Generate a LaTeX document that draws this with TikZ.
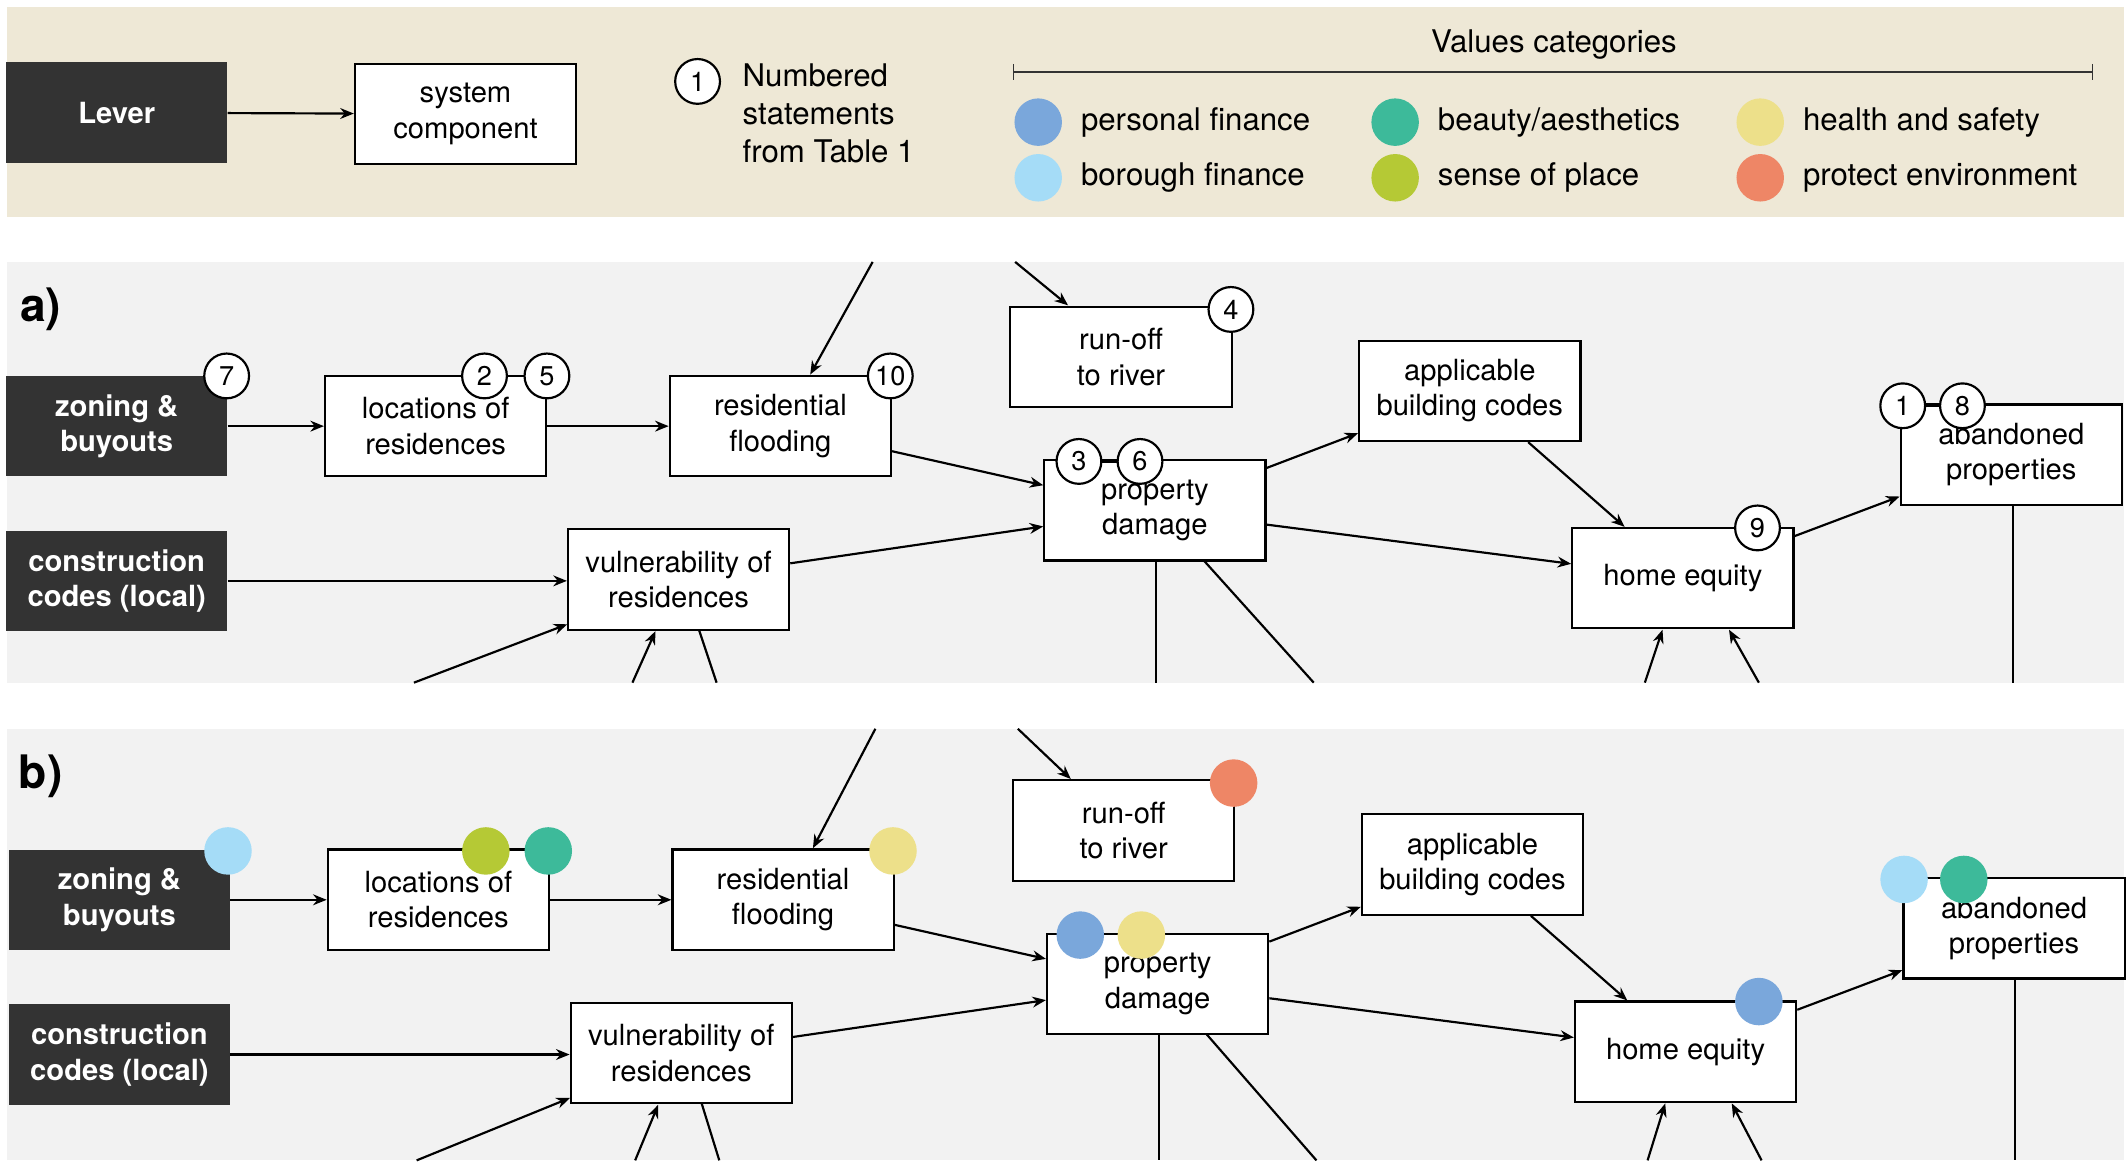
\documentclass[tikz,border=0pt]{standalone}
\usepackage{fontspec}
\setmainfont{TeX Gyre Heros}
\usetikzlibrary{arrows.meta}
\definecolor{beige}{HTML}{EEE8D6}
\definecolor{panel}{HTML}{F2F2F2}
\definecolor{dark}{HTML}{333333}
\definecolor{cpf}{HTML}{7AA7DB}
\definecolor{cbf}{HTML}{A5DCF7}
\definecolor{cba}{HTML}{3DBA9A}
\definecolor{csp}{HTML}{B5C935}
\definecolor{chs}{HTML}{EDE08A}
\definecolor{cpe}{HTML}{EE8666}
\tikzset{
 every node/.style={font=\fontsize{21.5}{26}\selectfont},
 leg/.style={anchor=west,font=\fontsize{23}{27}\selectfont},
 box/.style={draw=black,line width=1.6pt,fill=white,minimum width=163pt,minimum height=74pt,align=center,inner sep=2pt},
 lever/.style={fill=dark,text=white,minimum width=163pt,minimum height=74pt,align=center,font=\fontsize{21.5}{26}\selectfont\bfseries},
 arr/.style={line width=1.6pt,-{Stealth[length=10pt,width=8pt]}},
 ln/.style={line width=1.6pt},
 num/.style={circle,draw=black,line width=1.6pt,fill=white,minimum size=33pt,inner sep=0pt,font=\fontsize{20}{24}\selectfont},
 dot/.style={circle,minimum size=35pt,inner sep=0pt},
}
\newcommand\mypanel[3]{% #1 prefix, #2 top, #3 bottom
 \node[lever] (#1zon) at (86,314) {zoning \&\\buyouts};
 \node[lever] (#1con) at (86,428) {construction\\codes (local)};
 \node[box] (#1loc) at (321,314) {locations of\\residences};
 \node[box] (#1res) at (575,314) {residential\\flooding};
 \node[box] (#1run) at (826,263) {run-off\\to river};
 \node[box] (#1app) at (1083,288) {applicable\\building codes};
 \node[box] (#1pd) at (851,376) {property\\damage};
 \node[box] (#1vul) at (500,427) {vulnerability of\\residences};
 \node[box] (#1home) at (1240,426) {home equity};
 \node[box] (#1ab) at (1482,335) {abandoned\\properties};
 \coordinate (#1t1) at (643,#2); \coordinate (#1t2) at (748,#2);
 \coordinate (#1b1) at (305,#3); \coordinate (#1b2) at (466,#3);
 \coordinate (#1b3) at (528,#3); \coordinate (#1b4) at (852,#3);
 \coordinate (#1b5) at (968,#3); \coordinate (#1b6) at (1212,#3);
 \coordinate (#1b7) at (1296,#3); \coordinate (#1b8) at (1483,#3);
 \draw[arr] (#1zon) -- (#1loc);
 \draw[arr] (#1loc) -- (#1res);
 \draw[arr] (#1res) -- (#1pd);
 \draw[arr] (#1con) -- (#1vul.west|-#1con);
 \draw[arr] (#1vul) -- (#1pd);
 \draw[arr] (#1pd) -- (#1app);
 \draw[arr] (#1pd) -- (#1home);
 \draw[arr] (#1app) -- (#1home);
 \draw[arr] (#1home) -- (#1ab);
 \draw[arr] (#1t1) -- (597,276);
 \draw[arr] (#1t2) -- (787,225);
 \draw[arr] (#1b1) -- (418,460);
 \draw[arr] (#1b2) -- (483,465);
 \draw[ln] (515,464) -- (#1b3);
 \draw[ln] (#1pd.south-|#1b4) -- (#1b4);
 \draw[ln] (887,413) -- (#1b5);
 \draw[arr] (#1b6) -- (1225,464);
 \draw[arr] (#1b7) -- (1274,464);
 \draw[ln] (#1ab.south-|#1b8) -- (#1b8);
}
\begin{document}
\begin{tikzpicture}[x=1pt,y=-1pt]
\useasboundingbox (0,0) rectangle (1568,859);
\fill[white] (0,0) rectangle (1568,859);
% legend
\fill[beige] (5,5) rectangle (1565,160);
\node[lever] (lev) at (86,83) {Lever};
\node[box] (sys) at (343,84) {system\\component};
\draw[arr] (lev) -- (sys);
\node[num] (n1) at (514,60) {1};
\node[anchor=north west,align=left,inner sep=0pt,font=\fontsize{23}{28}\selectfont] (numtxt) at (547,47) {Numbered\\statements\\from Table 1};
\node[font=\fontsize{23}{27}\selectfont] (valt) at (1145,33) {Values categories};
\coordinate (vl) at (747,53); \coordinate (vr) at (1542,53);
\draw[line width=1pt,color=dark] (vl) -- (vr);
\draw[line width=1pt,color=dark] (747,47) -- (747,59) (1542,47) -- (1542,59);
\node[dot,fill=cpf] (d1) at (765,90) {}; \node[leg] (l1) at (793,90) {personal finance};
\node[dot,fill=cbf] (d2) at (765,131) {}; \node[leg] (l2) at (793,131) {borough finance};
\node[dot,fill=cba] (d3) at (1028,90) {}; \node[leg] (l3) at (1056,90) {beauty/aesthetics};
\node[dot,fill=csp] (d4) at (1028,131) {}; \node[leg] (l4) at (1056,131) {sense of place};
\node[dot,fill=chs] (d5) at (1297,90) {}; \node[leg] (l5) at (1325,90) {health and safety};
\node[dot,fill=cpe] (d6) at (1297,131) {}; \node[leg] (l6) at (1325,131) {protect environment};
% panel a
\fill[panel] (5,193) rectangle (1565,503);
\node[font=\fontsize{34}{36}\selectfont\bfseries] (la) at (30,228) {a)};
\begin{scope}
\mypanel{a}{193}{503}
\draw[ln] (357,277) -- (403,277);
\node[num] (a2) at (357,277) {2}; \node[num] (a5) at (403,277) {5};
\node[num] (a7) at (167,277) {7};
\node[num] (a10) at (656,277) {10};
\node[num] (a4) at (907,228) {4};
\draw[ln] (795,340) -- (840,340);
\node[num] (a3) at (795,340) {3}; \node[num] (a6) at (840,340) {6};
\node[num] (a9) at (1295,389) {9};
\draw[ln] (1402,299) -- (1446,299);
\node[num] (a1) at (1402,299) {1}; \node[num] (a8) at (1446,299) {8};
\end{scope}
% panel b
\fill[panel] (5,537) rectangle (1565,855);
\node[font=\fontsize{34}{36}\selectfont\bfseries] (lb) at (30,572) {b)};
\begin{scope}[shift={(2,349)}]
\mypanel{b}{188}{506}
\node[dot,fill=cbf] (bd1) at (166,278) {};
\node[dot,fill=csp] (bd2) at (356,278) {};
\node[dot,fill=cba] (bd3) at (402,278) {};
\node[dot,fill=chs] (bd4) at (656,278) {};
\node[dot,fill=cpe] (bd5) at (907,228) {};
\node[dot,fill=cpf] (bd6) at (794,340) {};
\node[dot,fill=chs] (bd7) at (839,340) {};
\node[dot,fill=cpf] (bd8) at (1294,389) {};
\node[dot,fill=cbf] (bd9) at (1401,299) {};
\node[dot,fill=cba] (bd10) at (1445,299) {};
\end{scope}
\end{tikzpicture}
\end{document}
